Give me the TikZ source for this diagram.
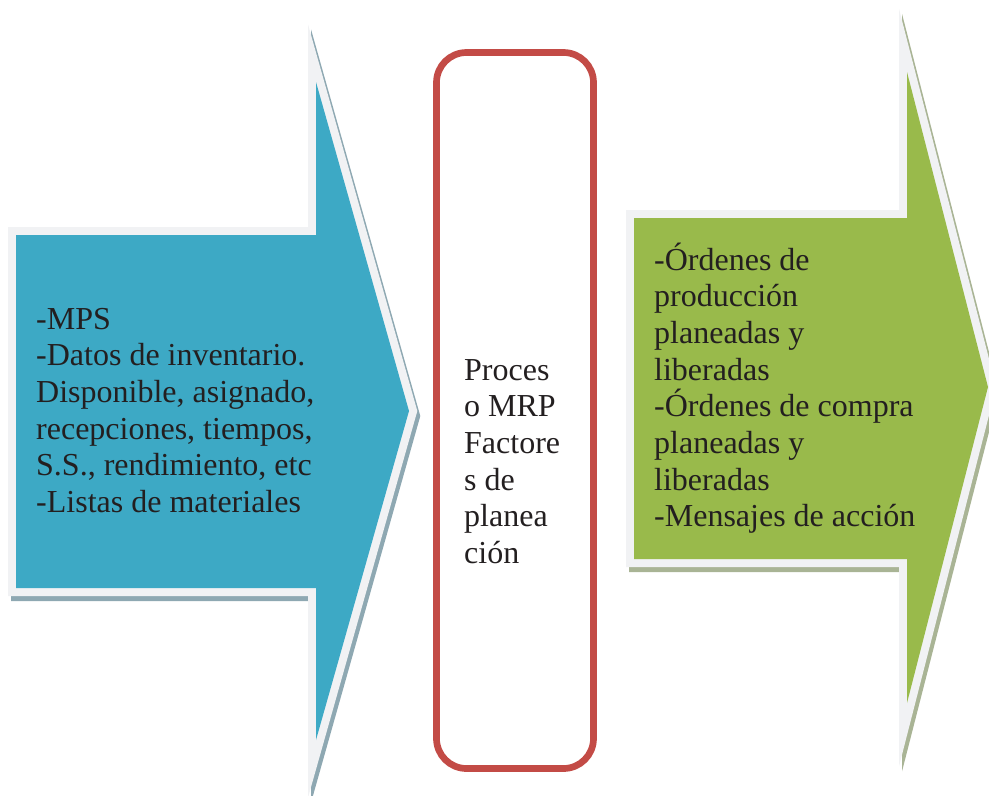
\documentclass[tikz,border=0pt]{standalone}
\usepackage{fontspec}
\setmainfont{Liberation Serif}
\definecolor{bluefill}{HTML}{3DA9C5}
\definecolor{blueshadow}{HTML}{8EA8B2}
\definecolor{greenfill}{HTML}{99BA4B}
\definecolor{greenshadow}{HTML}{A9B495}
\definecolor{rimgray}{HTML}{F1F2F4}
\definecolor{boxred}{HTML}{C34B46}
\definecolor{inktext}{HTML}{231F20}
\begin{document}
\begin{tikzpicture}[x=1pt,y=-1pt,
  rim/.style={draw=rimgray, line width=16pt, line join=miter, miter limit=12},
  shade/.style={draw=#1, fill=#1, line width=16pt, line join=miter, miter limit=12, shift={(3,5)}},
  txt/.style={inner sep=0pt, anchor=base west, text=inktext},
  redbox/.style={draw=boxred, line width=6.7pt, rounded corners=30pt}]
\useasboundingbox (0,0) rectangle (989,796);
% blue input arrow
\path[shade=blueshadow] (16,235) -- (316,235) -- (316,82) -- (409,411) -- (316,740) -- (316,588) -- (16,588) -- cycle;
\path[rim] (16,235) -- (316,235) -- (316,82) -- (409,411) -- (316,740) -- (316,588) -- (16,588) -- cycle;
\fill[bluefill] (16,235) -- (316,235) -- (316,82) -- (409,411) -- (316,740) -- (316,588) -- (16,588) -- cycle;
% green output arrow
\path[shade=greenshadow] (634,218) -- (907,218) -- (907,72) -- (988,387) -- (907,703) -- (907,559) -- (634,559) -- cycle;
\path[rim] (634,218) -- (907,218) -- (907,72) -- (988,387) -- (907,703) -- (907,559) -- (634,559) -- cycle;
\fill[greenfill] (634,218) -- (907,218) -- (907,72) -- (988,387) -- (907,703) -- (907,559) -- (634,559) -- cycle;
% red process box
\draw[redbox] (436.5,52.5) rectangle (593.5,768.5);
% texts
\node[txt] (inputs) at (36,329) {\parbox[t]{360pt}{\raggedright\fontsize{32pt}{36.7pt}\selectfont
-MPS\\
-Datos de inventario.\\
Disponible, asignado,\\
recepciones, tiempos,\\
S.S., rendimiento, etc\\
-Listas de materiales}};
\node[txt] (process) at (464,380) {\parbox[t]{200pt}{\raggedright\fontsize{32pt}{36.7pt}\selectfont
Proces\\
o MRP\\
Factore\\
s de\\
planea\\
ción}};
\node[txt] (outputs) at (654,270) {\parbox[t]{360pt}{\raggedright\fontsize{32pt}{36.7pt}\selectfont
-Órdenes de\\
producción\\
planeadas y\\
liberadas\\
-Órdenes de compra\\
planeadas y\\
liberadas\\
-Mensajes de acción}};
\end{tikzpicture}
\end{document}
